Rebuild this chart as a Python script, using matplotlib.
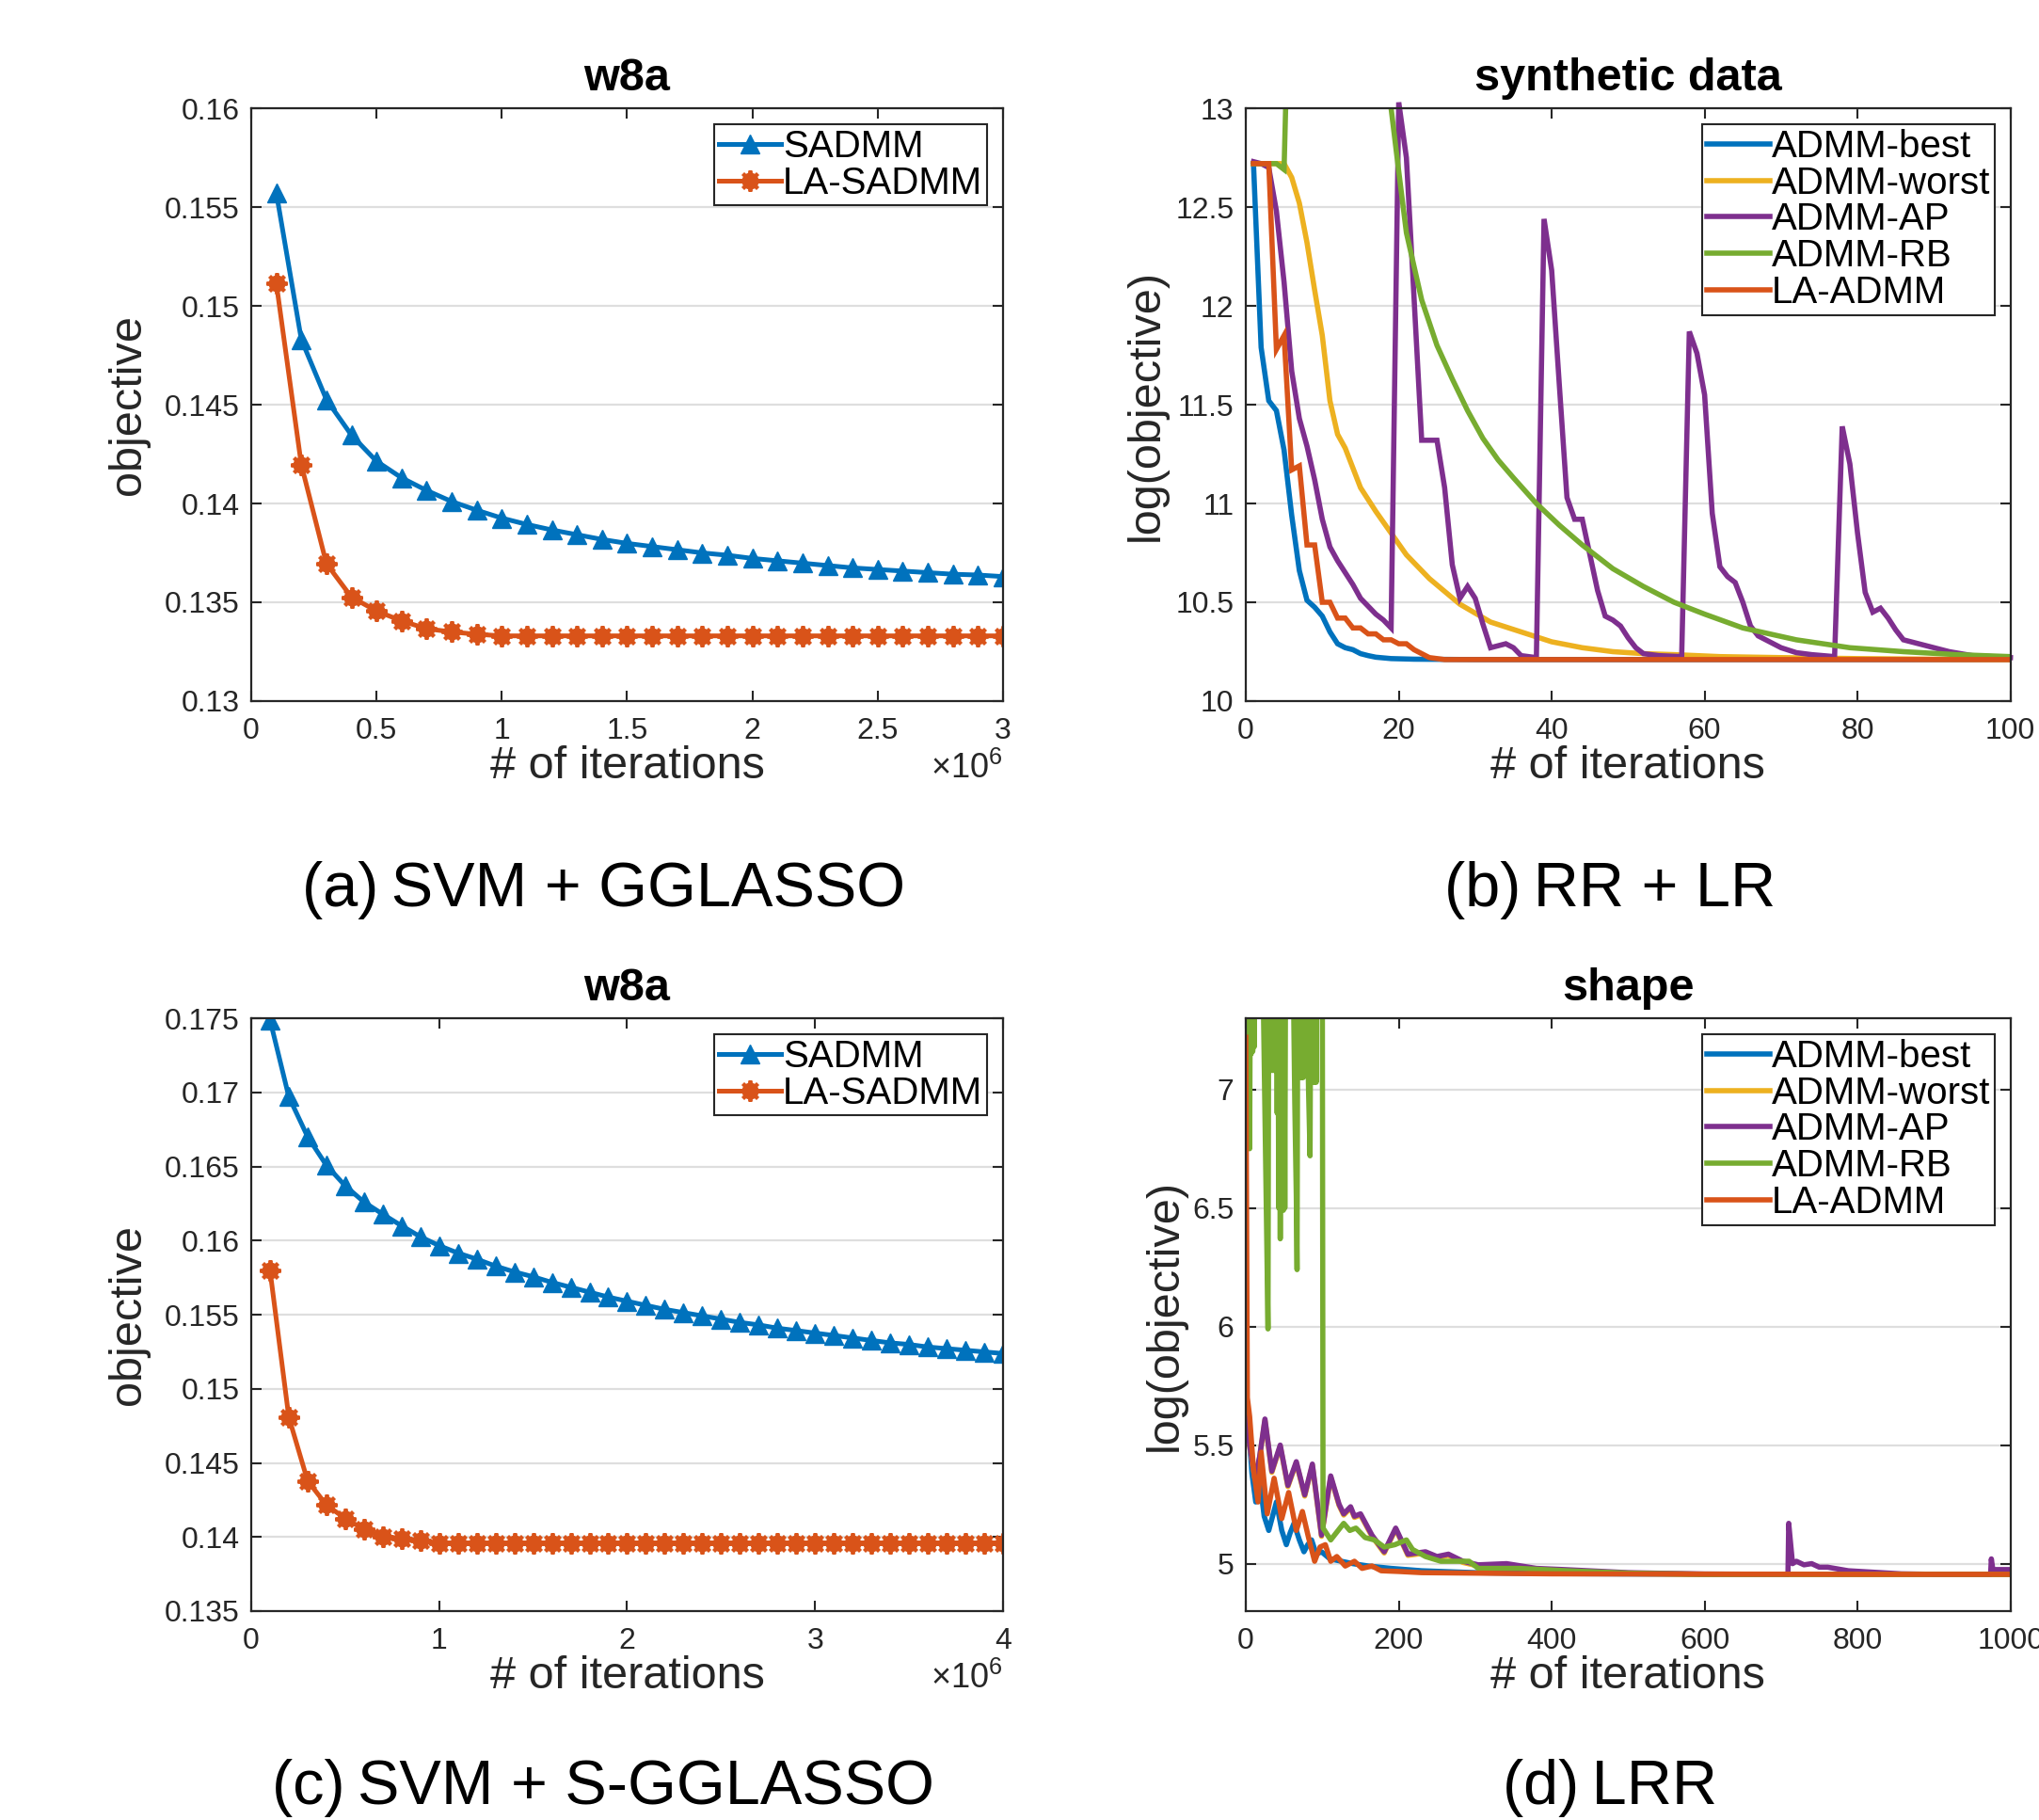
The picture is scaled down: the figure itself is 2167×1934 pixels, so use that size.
import numpy as np
import matplotlib
matplotlib.use('Agg')
import matplotlib.pyplot as plt
from matplotlib.ticker import MultipleLocator, FuncFormatter
from matplotlib.legend_handler import HandlerTuple

plt.rcParams['font.family'] = ['Liberation Sans', 'DejaVu Sans']
plt.rcParams['mathtext.fontset'] = 'custom'
plt.rcParams['mathtext.rm'] = 'Liberation Sans'
plt.rcParams['mathtext.it'] = 'Liberation Sans:italic'

colors = {
    'best': '#0072BD',
    'worst': '#EDB120',
    'ap': '#7E2F8E',
    'rb': '#77AC30',
    'la': '#D95319',
}
dark = '#262626'

# ---- (a) SVM + GGLASSO, w8a  (x in units of 1e6 iterations)
iters_a = np.arange(1, 31) * 0.1
sadmm_a = [0.15574, 0.1483, 0.14526, 0.14346, 0.14214, 0.1413, 0.14066, 0.1401, 0.13966, 0.13926,
           0.13894, 0.13866, 0.13842, 0.13818, 0.13798, 0.13782, 0.13766, 0.1375, 0.13738, 0.13722,
           0.1371, 0.13698, 0.13686, 0.13674, 0.13666, 0.13658, 0.1365, 0.13642, 0.13638, 0.1363]
la_sadmm_a = [0.15116, 0.14196, 0.13696, 0.13526, 0.13456, 0.13406, 0.13366, 0.1335, 0.13338] + [0.1333] * 21

# ---- (c) SVM + S-GGLASSO, w8a
iters_c = np.arange(1, 41) * 0.1
sadmm_c = [0.1749, 0.16971, 0.16701, 0.16508, 0.1637, 0.1626, 0.16178, 0.161, 0.16026, 0.15966,
           0.15916, 0.15875, 0.15828, 0.15789, 0.15756, 0.15718, 0.15685, 0.15652, 0.15619, 0.15591,
           0.15563, 0.15536, 0.15514, 0.15492, 0.1547, 0.15448, 0.15431, 0.15409, 0.15393, 0.15376,
           0.1536, 0.15343, 0.15326, 0.1531, 0.15299, 0.15282, 0.15271, 0.1526, 0.15249, 0.15238]
la_sadmm_c = [0.158, 0.14809, 0.14379, 0.14216, 0.14125, 0.14051, 0.14001, 0.13988, 0.13974] + [0.1396] * 31

# ---- (b) RR + LR, synthetic data
best_b_x = [1, 2, 3, 4, 5, 6, 7, 8, 9, 10, 11, 12, 13, 14, 15, 16, 17, 19, 22, 30, 100]
best_b_y = [12.72, 11.79, 11.52, 11.47, 11.27, 10.94, 10.66, 10.51, 10.475, 10.43, 10.35, 10.29,
            10.27, 10.26, 10.24, 10.23, 10.222, 10.215, 10.212, 10.21, 10.21]
worst_b_x = [1, 5, 6, 7, 8, 9, 10, 11, 12, 13, 14, 15, 16, 17, 19, 21, 24, 28, 32, 36, 40, 44, 48,
             52, 56, 62, 70, 80, 90, 100]
worst_b_y = [12.72, 12.72, 12.65, 12.52, 12.32, 12.08, 11.85, 11.52, 11.35, 11.28, 11.18, 11.08,
             11.02, 10.96, 10.85, 10.74, 10.62, 10.49, 10.40, 10.35, 10.30, 10.27, 10.25, 10.24,
             10.235, 10.225, 10.22, 10.215, 10.212, 10.21]
ap_b_x = [1, 2, 3, 4, 5, 6, 7, 8, 9, 10, 11, 12, 13, 14, 15, 16, 17, 18, 19, 20, 21, 22, 23,
          25, 26, 27, 28, 29, 30, 31, 32, 33, 34, 35, 36,
          38, 39, 40, 41, 42, 43, 44, 45, 46, 47, 48, 49, 50, 51, 52, 54, 57,
          58, 59, 60, 61, 62, 63, 64, 65, 66, 67, 68, 69, 70, 72, 74, 77,
          78, 79, 80, 81, 82, 83, 84, 85, 86, 87, 88, 89, 90, 92, 95, 100]
ap_b_y = [12.73, 12.72, 12.70, 12.48, 12.12, 11.67, 11.43, 11.29, 11.12, 10.92, 10.78, 10.71,
          10.65, 10.59, 10.52, 10.48, 10.44, 10.41, 10.37, 13.03, 12.75, 12.04, 11.32,
          11.32, 11.08, 10.69, 10.52, 10.58, 10.52, 10.39, 10.27, 10.28, 10.29, 10.27, 10.23,
          10.22, 12.44, 12.18, 11.6, 11.03, 10.92, 10.92, 10.74, 10.56, 10.43, 10.41, 10.38,
          10.32, 10.27, 10.24, 10.23, 10.225,
          11.87, 11.76, 11.55, 10.95, 10.68, 10.63, 10.6, 10.5, 10.38, 10.33, 10.31, 10.29,
          10.27, 10.245, 10.235, 10.225,
          11.39, 11.2, 10.85, 10.55, 10.45, 10.47, 10.42, 10.36, 10.31, 10.30, 10.29, 10.28,
          10.27, 10.25, 10.23, 10.22]
rb_b_x = [1, 4, 5, 6, 18, 19, 20, 21, 22, 23, 25, 27, 29, 31, 33, 35, 38, 41, 44, 48, 52, 56,
          60, 65, 72, 79, 86, 93, 100]
rb_b_y = [12.72, 12.72, 12.69, 14.2, 14.2, 13.0, 12.68, 12.37, 12.2, 12.03, 11.8, 11.63, 11.47,
          11.33, 11.22, 11.13, 11.0, 10.89, 10.79, 10.67, 10.58, 10.5, 10.44, 10.37, 10.31,
          10.27, 10.25, 10.235, 10.225]
la_b_x = [1, 3, 4, 5, 6, 7, 8, 9, 10, 11, 12, 13, 14, 15, 16, 17, 18, 19, 20, 21, 22, 24, 26, 100]
la_b_y = [12.72, 12.72, 11.78, 11.85, 11.17, 11.19, 10.79, 10.79, 10.50, 10.50, 10.42, 10.42,
          10.37, 10.37, 10.34, 10.34, 10.31, 10.31, 10.29, 10.29, 10.26, 10.22, 10.21, 10.21]

# ---- (d) LRR, shape
best_d_x = [0, 3, 8, 13, 19, 24, 30, 35, 40, 47, 53, 58, 63, 70, 76, 81, 86, 92, 99, 110, 125,
            140, 160, 190, 230, 300, 400, 550, 750, 1000]
best_d_y = [5.68, 5.60, 5.38, 5.26, 5.33, 5.20, 5.14, 5.20, 5.26, 5.14, 5.08, 5.13, 5.17, 5.10,
            5.05, 5.08, 5.10, 5.04, 5.05, 5.02, 5.01, 5.00, 4.99, 4.98, 4.97, 4.962, 4.958,
            4.956, 4.955, 4.955]
worst_d_x = [0, 5, 12, 18, 25, 34, 45, 55, 66, 77, 87, 99, 111, 122, 128, 137, 142, 150, 165,
             181, 196, 212, 235, 250, 265, 284, 304, 341, 380, 416, 500, 600, 1000]
worst_d_y = [5.655, 5.495, 5.355, 5.445, 5.605, 5.385, 5.495, 5.325, 5.425, 5.285, 5.415, 5.115,
             5.365, 5.245, 5.205, 5.235, 5.195, 5.205, 5.115, 5.045, 5.145, 5.035, 5.045, 5.025,
             5.035, 5.005, 4.99, 4.995, 4.975, 4.97, 4.958, 4.955, 4.955]
ap_d_x = [0, 5, 12, 18, 25, 34, 45, 55, 66, 77, 87, 99, 111, 122, 128, 137, 142, 150, 165, 181,
          196, 212, 235, 250, 265, 284, 304, 341, 380, 416, 500, 600, 709, 710, 715, 720, 730,
          740, 750, 761, 788, 857, 900, 974, 975, 977, 1000]
ap_d_y = [5.66, 5.50, 5.36, 5.45, 5.61, 5.39, 5.50, 5.33, 5.43, 5.29, 5.42, 5.12, 5.37, 5.25,
          5.21, 5.24, 5.20, 5.21, 5.12, 5.05, 5.15, 5.04, 5.05, 5.03, 5.04, 5.01, 4.995, 5.00,
          4.98, 4.975, 4.962, 4.956, 4.955, 5.17, 5.00, 5.01, 4.995, 5.00, 4.985, 4.985, 4.97,
          4.957, 4.955, 4.955, 5.02, 4.975, 4.975]
# 7.6 = above the top of the axis (clipped in the figure)
rb_d_x = [0, 1, 2, 3, 4, 5, 6, 7, 8, 9, 10, 11, 12,
          22, 23, 25, 27, 29, 30, 31, 32, 33, 34, 35, 36, 37, 38,
          40, 41, 42, 43, 44, 45, 46, 47, 48, 49, 50, 51, 52,
          62, 64, 66, 67, 68, 69, 70, 71, 72, 73, 74, 75, 76,
          80, 82, 84, 85, 86, 87, 88, 89, 90, 91, 92, 93,
          100, 101, 111, 128, 136, 144, 156, 168, 181, 195, 210, 218, 235, 255, 276, 292, 304,
          358, 420, 500, 600, 1000]
rb_d_y = [7.6, 6.8, 7.6, 7.12, 7.6, 6.75, 7.6, 7.15, 7.6, 7.16, 7.6, 7.18, 7.6,
          7.6, 7.35, 6.9, 6.45, 5.99, 7.6, 7.08, 7.6, 7.08, 7.6, 7.08, 7.6, 7.08, 7.6,
          7.6, 6.9, 7.6, 6.5, 7.6, 6.37, 7.6, 6.5, 7.6, 6.49, 7.6, 6.5, 7.6,
          7.5, 6.95, 6.55, 6.24, 7.6, 7.05, 7.6, 7.05, 7.6, 7.05, 7.6, 7.05, 7.6,
          7.4, 7.0, 6.72, 7.6, 7.03, 7.6, 7.03, 7.6, 7.03, 7.6, 7.03, 7.6,
          7.6, 5.15, 5.10, 5.17, 5.14, 5.15, 5.11, 5.10, 5.07, 5.08, 5.10, 5.06, 5.03, 5.01,
          5.01, 5.01, 4.98, 4.98, 4.97, 4.96, 4.955, 4.955]
la_d_x = [0, 2, 5, 10, 16, 20, 28, 37, 47, 56, 66, 74, 82, 90, 97, 104, 111, 119, 130, 142, 152,
          165, 177, 200, 230, 300, 400, 600, 800, 1000]
la_d_y = [7.22, 5.70, 5.62, 5.40, 5.26, 5.47, 5.21, 5.36, 5.19, 5.30, 5.14, 5.22, 5.11, 5.01,
          5.07, 5.08, 5.01, 5.03, 4.99, 5.01, 4.98, 4.99, 4.97, 4.967, 4.962, 4.96, 4.957, 4.956,
          4.955, 4.955]

admm_labels = ['ADMM-best', 'ADMM-worst', 'ADMM-AP', 'ADMM-RB', 'LA-ADMM']

fmt = FuncFormatter(lambda v, p: '%g' % round(v, 6))


def style_axes(ax):
    for s in ax.spines.values():
        s.set_color(dark)
        s.set_linewidth(1.6)
    ax.tick_params(direction='in', length=8, width=1.5, colors=dark, labelsize=23,
                   top=True, right=True)
    ax.tick_params(axis='x', pad=12)
    ax.tick_params(axis='y', pad=9)
    ax.yaxis.grid(True, color='#dedede', linewidth=1.6)
    ax.set_axisbelow(True)
    ax.xaxis.set_major_formatter(fmt)
    ax.yaxis.set_major_formatter(fmt)


def labels(ax, title, ylabel, ylab_x):
    ax.set_title(title, fontsize=35, fontweight='bold', pad=14)
    ax.set_xlabel('# of iterations', fontsize=35, color=dark)
    ax.xaxis.set_label_coords(0.5, -0.11)
    ax.xaxis.label.set_va('center')
    ax.set_ylabel(ylabel, fontsize=35, color=dark)
    ax.yaxis.set_label_coords(ylab_x, 0.5)
    ax.yaxis.label.set_va('center')


def leg(ax, handles, labs):
    lg = ax.legend(handles, labs, loc='upper right', fontsize=29, frameon=True, fancybox=False,
                   framealpha=1, edgecolor=dark, borderpad=0.12, labelspacing=0.02,
                   handlelength=1.65, handletextpad=0.05, borderaxespad=0.42,
                   handler_map={tuple: HandlerTuple(ndivide=1)})
    lg.get_frame().set_linewidth(1.5)


def sadmm_panel(ax, x, s, l, xmax, ylo, yhi):
    h1, = ax.plot(x, s, color=colors['best'], lw=3.6, marker='^', ms=15, mec=colors['best'])
    h2, = ax.plot(x, l, color=colors['la'], lw=3.6, marker='o', ms=12, mec=colors['la'])
    h3, = ax.plot(x, l, color=colors['la'], lw=0, marker=(8, 2, 0), ms=16, mew=2.8)
    ax.set_xlim(0, xmax)
    ax.set_ylim(ylo, yhi)
    ax.yaxis.set_major_locator(MultipleLocator(0.005))
    ax.text(1.0, -0.13, r'$\times10^{6}$', transform=ax.transAxes, ha='right', va='baseline',
            fontsize=26, color=dark)
    style_axes(ax)
    leg(ax, [h1, (h2, h3)], ['SADMM', 'LA-SADMM'])


fig = plt.figure(figsize=(21.67, 19.34), dpi=100)
ax_a = fig.add_axes([0.1232, 0.6148, 0.3687, 0.3257])
ax_b = fig.add_axes([0.611, 0.6148, 0.375, 0.3257])
ax_c = fig.add_axes([0.1232, 0.1148, 0.3687, 0.3257])
ax_d = fig.add_axes([0.611, 0.1148, 0.375, 0.3257])

# (a)
sadmm_panel(ax_a, iters_a, sadmm_a, la_sadmm_a, 3, 0.13, 0.16)
ax_a.xaxis.set_major_locator(MultipleLocator(0.5))
labels(ax_a, 'w8a', 'objective', -0.163)

# (c)
sadmm_panel(ax_c, iters_c, sadmm_c, la_sadmm_c, 4, 0.135, 0.175)
ax_c.xaxis.set_major_locator(MultipleLocator(1))
labels(ax_c, 'w8a', 'objective', -0.163)

# (b)
hb = []
for key, xs, ys in [('best', best_b_x, best_b_y), ('worst', worst_b_x, worst_b_y),
                    ('ap', ap_b_x, ap_b_y), ('rb', rb_b_x, rb_b_y), ('la', la_b_x, la_b_y)]:
    h, = ax_b.plot(xs, ys, color=colors[key], lw=4, solid_joinstyle='miter',
                   clip_on=(key != 'ap'))
    hb.append(h)
ax_b.set_xlim(0, 100)
ax_b.set_ylim(10, 13)
ax_b.xaxis.set_major_locator(MultipleLocator(20))
ax_b.yaxis.set_major_locator(MultipleLocator(0.5))
style_axes(ax_b)
labels(ax_b, 'synthetic data', 'log(objective)', -0.13)
leg(ax_b, hb, admm_labels)

# (d)
hd = []
for key, xs, ys in [('best', best_d_x, best_d_y), ('worst', worst_d_x, worst_d_y),
                    ('ap', ap_d_x, ap_d_y), ('rb', rb_d_x, rb_d_y), ('la', la_d_x, la_d_y)]:
    h, = ax_d.plot(xs, ys, color=colors[key], lw=4)
    hd.append(h)
ax_d.set_xlim(0, 1000)
ax_d.set_ylim(4.8, 7.3)
ax_d.xaxis.set_major_locator(MultipleLocator(200))
ax_d.yaxis.set_major_locator(MultipleLocator(0.5))
style_axes(ax_d)
labels(ax_d, 'shape', 'log(objective)', -0.105)
leg(ax_d, hd, admm_labels)

# sub-captions
fig.text(0.296, 0.502, '(a)\u2009SVM + GGLASSO', fontsize=48, ha='center', va='baseline')
fig.text(0.7896, 0.502, '(b)\u2009RR + LR', fontsize=48, ha='center', va='baseline')
fig.text(0.296, 0.009, '(c)\u2009SVM + S-GGLASSO', fontsize=48, ha='center', va='baseline')
fig.text(0.7896, 0.009, '(d)\u2009LRR', fontsize=48, ha='center', va='baseline')

fig.savefig('out.png', dpi=100)
